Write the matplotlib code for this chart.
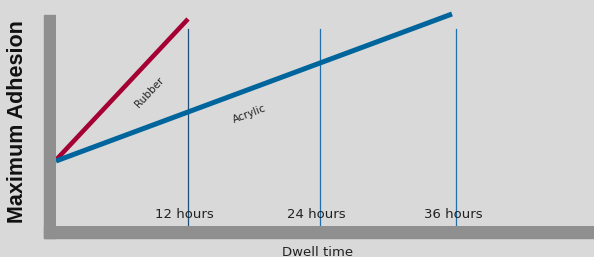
import matplotlib
matplotlib.use("Agg")
import matplotlib.pyplot as plt
from matplotlib.patches import Rectangle

# Data (hours, arbitrary adhesion units)
rubber_x = [0, 12]
rubber_y = [6.6, 20.7]
acrylic_x = [0, 36]
acrylic_y = [6.5, 21.2]
tick_hours = [12, 24.0, 36.4]
tick_labels = ["12 hours", "24 hours", "36 hours"]
vline_top = 19.7

W, H = 594, 257
fig = plt.figure(figsize=(W / 100, H / 100), dpi=100)
bg = "#d9d9d9"
fig.patch.set_facecolor(bg)

# axes region in pixels: x 56..594, y (from top) 0..226
ax = fig.add_axes([56 / W, (H - 226) / H, (W - 56) / W, 226 / H])
ax.set_facecolor(bg)
ax.set_xlim(0, 538 / 11)
ax.set_ylim(0, 22.6)
for s in ax.spines.values():
    s.set_visible(False)
ax.set_xticks([])
ax.set_yticks([])

# gray axis bars
gray = "#8f8f8f"
fig.add_artist(Rectangle((44 / W, (H - 238) / H), 12 / W, (238 - 15) / H,
                         transform=fig.transFigure, color=gray, zorder=0))
fig.add_artist(Rectangle((44 / W, (H - 238) / H), (W - 44) / W, 12 / H,
                         transform=fig.transFigure, color=gray, zorder=0))

# vertical guide lines
vcolors = ["#1d4f78", "#1f6fa8", "#1f6fa8"]
for xh, c in zip(tick_hours, vcolors):
    ax.plot([xh, xh], [0, vline_top], color=c, lw=0.9, zorder=2)

ax.plot(rubber_x, rubber_y, color="#a50034", lw=3.3, solid_capstyle="butt", zorder=3)
ax.plot(acrylic_x, acrylic_y, color="#00659c", lw=3.6, solid_capstyle="butt", zorder=3)

# tick labels
for xh, lab in zip(tick_hours, tick_labels):
    ax.text(xh - 0.3, 1.2, lab, ha="center", va="center", fontsize=9.5,
            color="#222222", family="DejaVu Sans")

ax.text(8.5, 13.4, "Rubber", rotation=47, ha="center", va="center",
        fontsize=7.5, color="#222222")
ax.text(17.6, 11.2, "Acrylic", rotation=21, ha="center", va="center",
        fontsize=7.5, color="#222222")

fig.text(318 / W, (H - 252) / H, "Dwell time", ha="center", va="center",
         fontsize=9.5, color="#222222")
fig.text(18 / W, (H - 122) / H, "Maximum Adhesion", ha="center", va="center",
         rotation=90, fontsize=15.5, fontweight="bold", color="#111111",
         family="Liberation Sans")

fig.savefig("out.png", dpi=100, facecolor=bg)
